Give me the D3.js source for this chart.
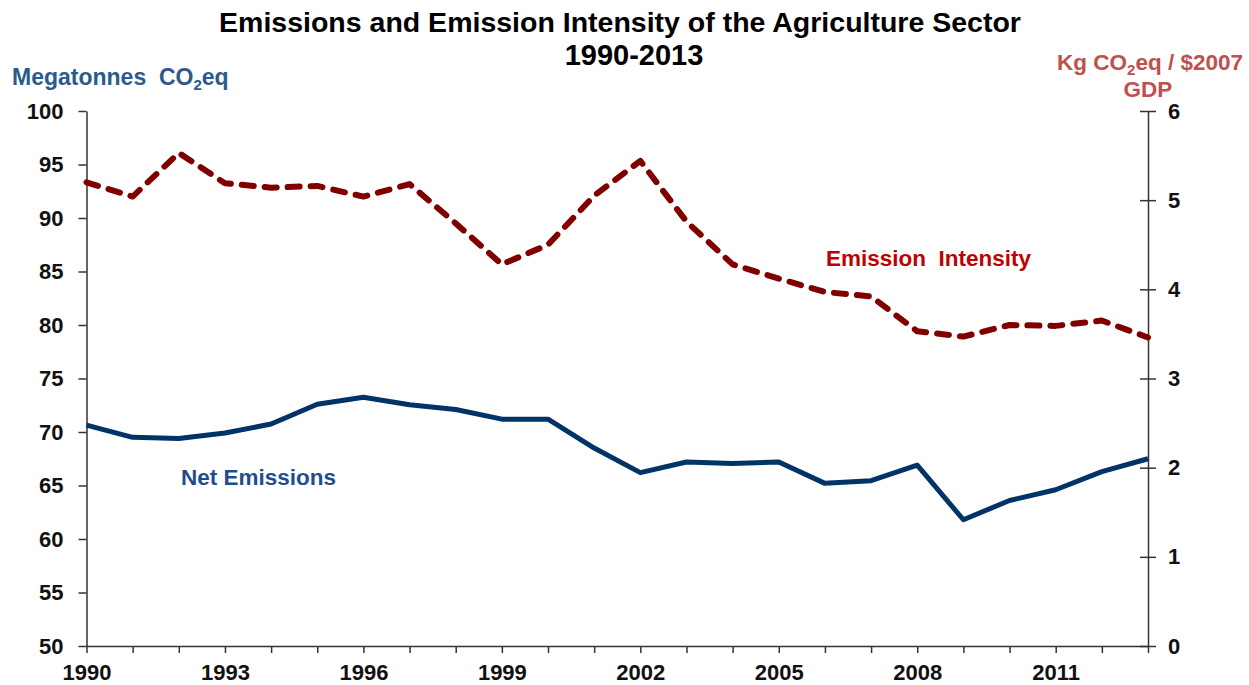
<html>
<head>
<script src="https://d3js.org/d3.v7.min.js"></script>
<style>
body { margin: 0; background: #fff; }
svg { font-family: "Liberation Sans", Arial, sans-serif; font-weight: bold; }
.axis path, .axis line { stroke: #333; stroke-width: 1.5; }
.axis text { font-size: 22px; font-weight: bold; fill: #111; font-family: "Liberation Sans", Arial, sans-serif; }
text { white-space: pre; }
</style>
</head>
<body>
<svg width="1249" height="685"></svg>
<script>
var years = d3.range(1990, 2014);
var netEmissions = [70.65, 69.5, 69.4, 69.9, 70.75, 72.6, 73.25, 72.55, 72.1, 71.2, 71.2,
                    68.5, 66.2, 67.2, 67.05, 67.2, 65.2, 65.45, 66.9, 61.8, 63.6, 64.6, 66.3, 67.5];
var intensity = [5.20, 5.04, 5.53, 5.19, 5.14, 5.16, 5.04, 5.18, 4.74, 4.28, 4.50,
                 5.05, 5.44, 4.76, 4.28, 4.12, 3.97, 3.92, 3.53, 3.47, 3.60, 3.59, 3.65, 3.46];
var leftTicks = [50, 55, 60, 65, 70, 75, 80, 85, 90, 95, 100];
var rightTicks = [0, 1, 2, 3, 4, 5, 6];
var yearLabels = [1990, 1993, 1996, 1999, 2002, 2005, 2008, 2011];

var svg = d3.select('svg');
var x = d3.scaleLinear([1990, 2013], [86.5, 1148]);
var yL = d3.scaleLinear([50, 100], [646, 111]);
var yR = d3.scaleLinear([0, 6], [646, 111]);

// titles
svg.append('text').attr('x', 620).attr('y', 32).attr('text-anchor', 'middle')
  .style('font-size', '28.5px').text('Emissions and Emission Intensity of the Agriculture Sector');
svg.append('text').attr('x', 634).attr('y', 65).attr('text-anchor', 'middle')
  .style('font-size', '29px').text('1990-2013');

var lt = svg.append('text').attr('x', 12).attr('y', 85).style('font-size', '23px').attr('fill', '#2c5a8c');
lt.append('tspan').text('Megatonnes  CO');
lt.append('tspan').attr('dy', 5).style('font-size', '15px').text('2');
lt.append('tspan').attr('dy', -5).text('eq');

var rt = svg.append('text').attr('x', 1243).attr('y', 70).attr('text-anchor', 'end')
  .style('font-size', '22.5px').attr('fill', '#c0504d');
rt.append('tspan').text('Kg CO');
rt.append('tspan').attr('dy', 5).style('font-size', '15px').text('2');
rt.append('tspan').attr('dy', -5).text('eq / $2007');
svg.append('text').attr('x', 1148).attr('y', 97).attr('text-anchor', 'middle')
  .style('font-size', '22.5px').attr('fill', '#c0504d').text('GDP');

// axes
svg.append('g').attr('class', 'axis').attr('transform', 'translate(86.5,0)')
  .call(d3.axisLeft(yL).tickValues(leftTicks).tickSize(8).tickSizeOuter(0).tickPadding(15));

var gr = svg.append('g').attr('class', 'axis').attr('transform', 'translate(1148,0)')
  .call(d3.axisRight(yR).tickValues(rightTicks).tickFormat(d3.format('d'))
    .tickSize(8).tickSizeOuter(0).tickPadding(12));
gr.selectAll('.tick line').attr('x1', -8);
gr.select('.domain').attr('stroke', '#555');

svg.append('g').attr('class', 'axis').attr('transform', 'translate(0,646)')
  .call(d3.axisBottom(x).tickValues(years).tickSize(7).tickSizeOuter(0).tickPadding(11)
    .tickFormat(function(d) { return yearLabels.indexOf(d) >= 0 ? d : ''; }));

// lines
var lineL = d3.line().x(function(d, i) { return x(years[i]); }).y(function(d) { return yL(d); });
var lineR = d3.line().x(function(d, i) { return x(years[i]); }).y(function(d) { return yR(d); });

svg.append('path').datum(intensity).attr('d', lineR)
  .attr('fill', 'none').attr('stroke', '#800000').attr('stroke-width', 6)
  .attr('stroke-dasharray', '12,11').attr('stroke-linecap', 'round').attr('stroke-linejoin', 'round');

svg.append('path').datum(netEmissions).attr('d', lineL)
  .attr('fill', 'none').attr('stroke', '#003366').attr('stroke-width', 5)
  .attr('stroke-linejoin', 'round');

// labels
svg.append('text').attr('x', 826).attr('y', 266).style('font-size', '22.5px')
  .attr('fill', '#c00000').text('Emission  Intensity');
svg.append('text').attr('x', 181).attr('y', 485).style('font-size', '22.5px')
  .attr('fill', '#1f4e8c').text('Net Emissions');
</script>
</body>
</html>
